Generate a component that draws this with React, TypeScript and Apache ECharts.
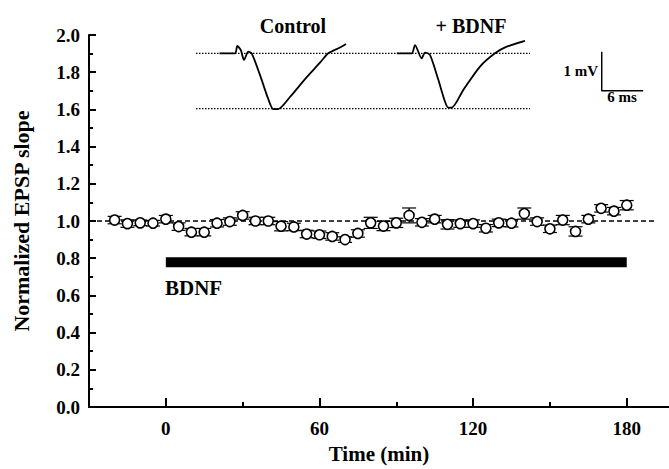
import React, { useEffect, useRef } from "react";
import * as echarts from "echarts";

// ---- Data ----
const times = [-20, -15, -10, -5, 0, 5, 10, 15, 20, 25, 30, 35, 40, 45, 50, 55, 60, 65, 70, 75, 80, 85, 90, 95, 100, 105, 110, 115, 120, 125, 130, 135, 140, 145, 150, 155, 160, 165, 170, 175, 180];
const slopes = [1.005, 0.986, 0.99, 0.988, 1.01, 0.97, 0.94, 0.94, 0.988, 0.997, 1.03, 1.0, 1.0, 0.972, 0.968, 0.93, 0.926, 0.917, 0.9, 0.933, 0.99, 0.973, 0.99, 1.03, 0.993, 1.01, 0.982, 0.986, 0.986, 0.961, 0.99, 0.988, 1.04, 0.997, 0.958, 1.005, 0.944, 1.01, 1.068, 1.053, 1.085];
const errors = [0.02, 0.02, 0.015, 0.015, 0.02, 0.02, 0.02, 0.02, 0.02, 0.02, 0.02, 0.02, 0.02, 0.025, 0.02, 0.02, 0.02, 0.02, 0.015, 0.02, 0.03, 0.025, 0.025, 0.04, 0.02, 0.02, 0.025, 0.02, 0.02, 0.02, 0.02, 0.02, 0.03, 0.02, 0.02, 0.025, 0.025, 0.02, 0.02, 0.02, 0.025];
const baselineLine = [[-30, 1.0], [191, 1.0]];
const bdnfBar = [[0, 0.778], [180, 0.778]];
const xMajorTicks = [0, 60, 120, 180];
const xMinorTicks = [30, 90, 150];

// inset traces (ms, mV)
const controlTrace = [[3.4, 0], [5.65, 0], [5.99, 0.19], [6.5, 0.08], [6.96, -0.17], [7.58, 0.04], [8.07, 0], [9.28, -0.56], [10.43, -1.15], [11.2, -1.43], [11.88, -1.43], [13.62, -1.12], [15.8, -0.66], [17.97, -0.24], [19.17, 0], [20.87, 0.15], [21.74, 0.24]];
const bdnfTrace = [[29.1, 0], [31.26, 0], [31.74, 0.21], [32.71, -0.13], [33.19, 0.02], [33.91, -0.04], [35.12, -0.68], [36.09, -1.24], [36.57, -1.39], [37.06, -1.39], [38.74, -0.94], [41.16, -0.34], [43.33, 0], [45.03, 0.17], [47.68, 0.32]];
const dottedTop = [[0, 0], [48.4, 0]];
const dottedBottom = [[0, -1.42], [48.4, -1.42]];
const scaleBar = [[58.8, 0.04], [58.8, -0.96], [64.8, -0.96]];

const FONT = "'Liberation Serif', 'DejaVu Serif', serif";

export default function App() {
  const ref = useRef<HTMLDivElement>(null);
  useEffect(() => {
    const chart = echarts.init(ref.current!, null, { renderer: "svg" });
    const errData = times.map((t, i) => [t, slopes[i] - errors[i], slopes[i] + errors[i]]);
    const points = times.map((t, i) => [t, slopes[i]]);
    const black = "#000";
    const option: any = {
      animation: false,
      backgroundColor: "#fff",
      grid: [
        { left: 89, top: 35, width: 580, height: 377 },
        { left: 196, top: 40.33, width: 448.5, height: 78 },
      ],
      xAxis: [
        {
          gridIndex: 0, type: "value", position: "bottom", min: -30, max: 196.5,
          axisLine: { onZero: false, lineStyle: { color: black, width: 2 } },
          axisTick: { inside: true, length: 9, customValues: xMajorTicks, lineStyle: { color: black, width: 2 } },
          axisLabel: { customValues: xMajorTicks, color: black, fontFamily: FONT, fontWeight: "bold", fontSize: 19, margin: 12 },
          splitLine: { show: false },
          name: "Time (min)", nameLocation: "middle", nameGap: 36,
          nameTextStyle: { color: black, fontFamily: FONT, fontWeight: "bold", fontSize: 21 },
        },
        {
          gridIndex: 0, type: "value", position: "bottom", min: -30, max: 196.5,
          axisLine: { show: false, onZero: false },
          axisTick: { inside: true, length: 5, customValues: xMinorTicks, lineStyle: { color: black, width: 2 } },
          axisLabel: { show: false },
          splitLine: { show: false },
        },
        { gridIndex: 1, type: "value", min: 0, max: 65, show: false },
      ],
      yAxis: [
        {
          gridIndex: 0, type: "value", position: "left", min: 0, max: 2, interval: 0.2,
          axisLine: { show: true, onZero: false, lineStyle: { color: black, width: 2 } },
          axisTick: { show: true, inside: true, length: 7, lineStyle: { color: black, width: 2 } },
          axisLabel: { color: black, fontFamily: FONT, fontWeight: "bold", fontSize: 19, margin: 9, formatter: (v: number) => v.toFixed(1) },
          splitLine: { show: false },
          name: "Normalized EPSP slope", nameLocation: "middle", nameGap: 57,
          nameTextStyle: { color: black, fontFamily: FONT, fontWeight: "bold", fontSize: 22 },
        },
        {
          gridIndex: 0, type: "value", position: "left", min: 0, max: 2, interval: 0.1,
          axisLine: { show: false, onZero: false },
          axisTick: { show: true, inside: true, length: 4, lineStyle: { color: black, width: 2 } },
          axisLabel: { show: false },
          splitLine: { show: false },
        },
        { gridIndex: 1, type: "value", min: -1.6667, max: 0.3333, show: false },
      ],
      graphic: [
        { type: "text", x: 165, y: 288, style: { text: "BDNF", fill: black, font: `bold 21px ${FONT}`, textVerticalAlign: "middle" } },
        { type: "text", x: 293, y: 26, style: { text: "Control", fill: black, font: `bold 20px ${FONT}`, textAlign: "center", textVerticalAlign: "middle" } },
        { type: "text", x: 471, y: 26, style: { text: "+ BDNF", fill: black, font: `bold 20px ${FONT}`, textAlign: "center", textVerticalAlign: "middle" } },
        { type: "text", x: 598, y: 71, style: { text: "1 mV", fill: black, font: `bold 15px ${FONT}`, textAlign: "right", textVerticalAlign: "middle" } },
        { type: "text", x: 622, y: 97, style: { text: "6 ms", fill: black, font: `bold 15px ${FONT}`, textAlign: "center", textVerticalAlign: "middle" } },
      ],
      series: [
        {
          type: "line", xAxisIndex: 0, yAxisIndex: 0, data: baselineLine, symbol: "none",
          lineStyle: { color: black, width: 1.5, type: [5, 3] }, z: 1,
        },
        {
          type: "line", xAxisIndex: 0, yAxisIndex: 0, data: bdnfBar, symbol: "none",
          lineStyle: { color: black, width: 10, cap: "butt" }, z: 1,
        },
        {
          type: "custom", xAxisIndex: 0, yAxisIndex: 0, data: errData, z: 2,
          encode: { x: 0, y: [1, 2] },
          renderItem: (params: any, api: any) => {
            const x = api.value(0);
            const lo = api.coord([x, api.value(1)]);
            const hi = api.coord([x, api.value(2)]);
            const hw = 7;
            const st = { stroke: black, lineWidth: 1.2 };
            return {
              type: "group",
              children: [
                { type: "line", shape: { x1: lo[0], y1: lo[1], x2: hi[0], y2: hi[1] }, style: st },
                { type: "line", shape: { x1: lo[0] - hw, y1: lo[1], x2: lo[0] + hw, y2: lo[1] }, style: st },
                { type: "line", shape: { x1: hi[0] - hw, y1: hi[1], x2: hi[0] + hw, y2: hi[1] }, style: st },
              ],
            };
          },
        },
        {
          type: "scatter", xAxisIndex: 0, yAxisIndex: 0, data: points, symbol: "circle", symbolSize: 10, z: 3,
          itemStyle: { color: "#fff", borderColor: black, borderWidth: 1.6, opacity: 1 },
        },
        {
          type: "line", xAxisIndex: 2, yAxisIndex: 2, data: dottedTop, symbol: "none",
          lineStyle: { color: black, width: 1.3, type: [1.5, 1.5] },
        },
        {
          type: "line", xAxisIndex: 2, yAxisIndex: 2, data: dottedBottom, symbol: "none",
          lineStyle: { color: black, width: 1.3, type: [1.5, 1.5] },
        },
        {
          type: "line", xAxisIndex: 2, yAxisIndex: 2, data: controlTrace, symbol: "none", smooth: 0.25,
          lineStyle: { color: black, width: 1.8 },
        },
        {
          type: "line", xAxisIndex: 2, yAxisIndex: 2, data: bdnfTrace, symbol: "none", smooth: 0.25,
          lineStyle: { color: black, width: 1.8 },
        },
        {
          type: "line", xAxisIndex: 2, yAxisIndex: 2, data: scaleBar, symbol: "none",
          lineStyle: { color: black, width: 1.5 },
        },
      ],
    };
    chart.setOption(option);
    return () => chart.dispose();
  }, []);
  return (
    <div
      ref={ref}
      style={{ position: "fixed", left: 0, top: 0, width: 669, height: 469, background: "#fff" }}
    />
  );
}
